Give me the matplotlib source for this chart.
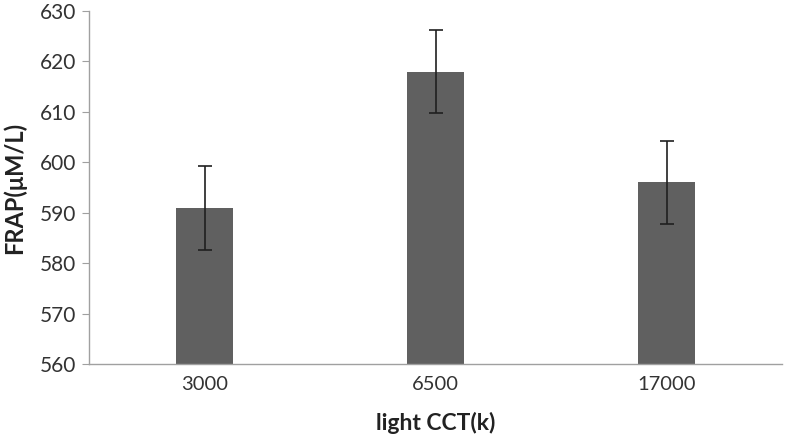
import numpy as np
import matplotlib.pyplot as plt

plt.rcParams['font.family'] = ['Lato', 'DejaVu Sans']

# data
cct = ["3000", "6500", "17000"]
frap = [591, 618, 596]
err = [8.3, 8.2, 8.3]

fig = plt.figure(figsize=(7.87, 4.37), dpi=100)
ax = fig.add_axes([89/787, 1 - 364/437, (782-89)/787, (364-11)/437])

x = np.arange(len(cct))
ax.bar(x, frap, width=0.25, color='#606060', zorder=2)
ax.errorbar(x, frap, yerr=err, fmt='none', ecolor='#202020', elinewidth=1.2,
            capsize=5, capthick=1.2, zorder=3)

ax.set_ylim(560, 630)
ax.set_xlim(-0.5, 2.5)
ax.set_yticks(np.arange(560, 631, 10))
ax.set_xticks(x)
ax.set_xticklabels(cct)

for s in ['top', 'right']:
    ax.spines[s].set_visible(False)
for s in ['left', 'bottom']:
    ax.spines[s].set_color('#a0a0a0')
    ax.spines[s].set_linewidth(1)

ax.tick_params(axis='y', length=5, color='#a0a0a0', labelsize=15, labelcolor='#333333', pad=4)
ax.tick_params(axis='x', length=0, labelsize=14.5, labelcolor='#333333', pad=9)

ax.set_xlabel("light CCT(k)", fontsize=16.5, fontweight='bold', color='#222222', labelpad=13)
ax.set_ylabel("FRAP(μM/L)", fontsize=17, fontweight='bold', color='#222222', labelpad=10)

fig.savefig("out.png", dpi=100)
